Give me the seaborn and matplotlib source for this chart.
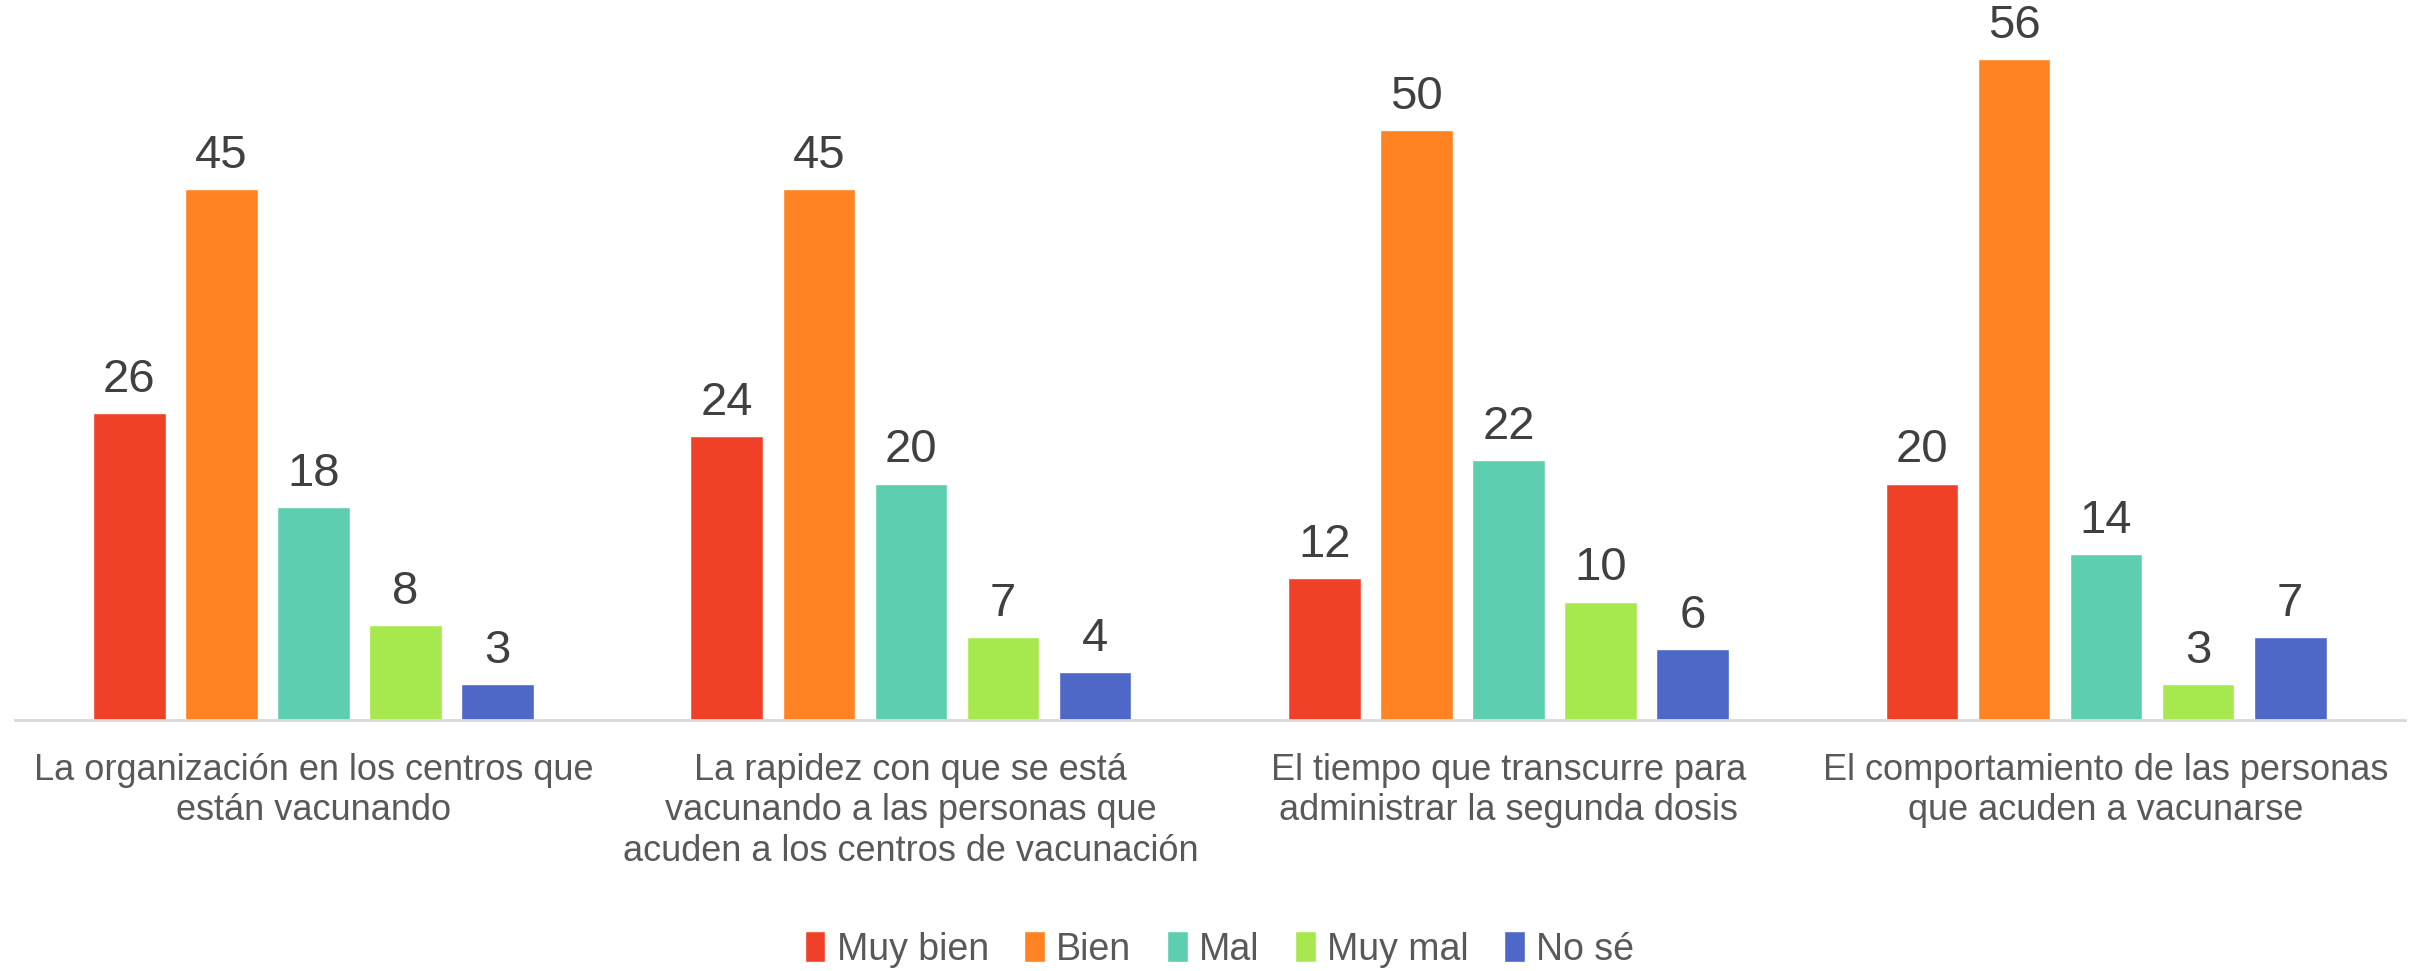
import pandas as pd
import seaborn as sns
import matplotlib.pyplot as plt

sns.set_theme(style="white")
plt.rcParams['font.family'] = ['Liberation Sans Narrow', 'Liberation Sans', 'DejaVu Sans']

categorias = [
    "La organización en los centros que\nestán vacunando",
    "La rapidez con que se está\nvacunando a las personas que\nacuden a los centros de vacunación",
    "El tiempo que transcurre para\nadministrar la segunda dosis",
    "El comportamiento de las personas\nque acuden a vacunarse",
]
respuestas = ["Muy bien", "Bien", "Mal", "Muy mal", "No sé"]
muy_bien = [26, 24, 12, 20]
bien = [45, 45, 50, 56]
mal = [18, 20, 22, 14]
muy_mal = [8, 7, 10, 3]
no_se = [3, 4, 6, 7]
colores = ["#F04128", "#FF8322", "#5DCFB0", "#A8E84F", "#4F67C7"]

series = [muy_bien, bien, mal, muy_mal, no_se]
df = pd.DataFrame({
    "categoria": [c for _ in respuestas for c in categorias],
    "respuesta": [r for r in respuestas for _ in categorias],
    "valor": [v for s in series for v in s],
})

fig = plt.figure(figsize=(24.17, 9.71), dpi=100)
ax = fig.add_axes([0.006, 0.259, 0.989, 0.729])
sns.barplot(data=df, x="categoria", y="valor", hue="respuesta",
            hue_order=respuestas, palette=colores, width=0.77, gap=0.21,
            saturation=1, ax=ax)

for cont in ax.containers:
    ax.bar_label(cont, padding=8, fontsize=34, color="#404040")

ax.set_ylim(0, 60)
ax.set_xlim(-0.5, 3.5)
ax.set_xlabel("")
ax.set_ylabel("")
ax.set_yticks([])
ax.tick_params(axis="x", length=0, pad=24, labelsize=26, labelcolor="#595959")
for s in ["top", "right", "left"]:
    ax.spines[s].set_visible(False)
ax.spines["bottom"].set_color("#D9D9D9")
ax.spines["bottom"].set_linewidth(2)

ax.legend(loc="center", bbox_to_anchor=(0.504, -0.325), ncol=5, frameon=False,
          fontsize=27, labelcolor="#595959", handlelength=0.55, handleheight=0.9,
          handletextpad=0.3, columnspacing=0.95)

fig.savefig("out.png", dpi=100)
